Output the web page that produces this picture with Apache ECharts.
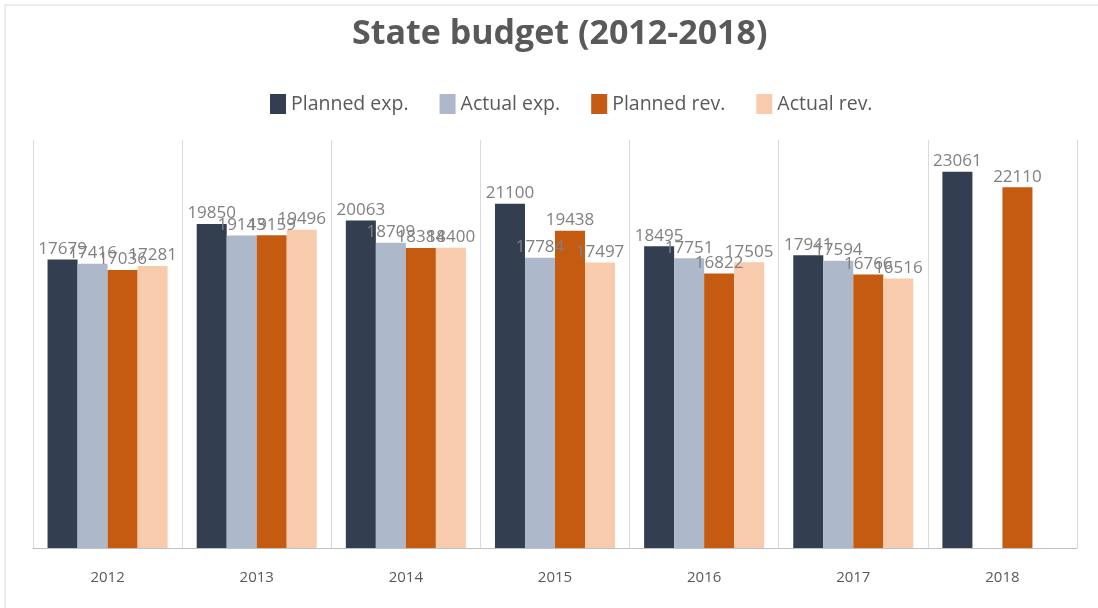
<!DOCTYPE html>
<html>
<head>
<meta charset="utf-8">
<script src="https://cdn.jsdelivr.net/npm/echarts@6/dist/echarts.min.js"></script>
<style>
  html, body { margin: 0; padding: 0; background: #ffffff; }
  #chart { width: 1098px; height: 608px; }
</style>
</head>
<body>
<div id="chart"></div>
<script>
// State budget, 2012-2018
const years = ['2012', '2013', '2014', '2015', '2016', '2017', '2018'];
const plannedExp = [17679, 19850, 20063, 21100, 18495, 17941, 23061];
const actualExp  = [17416, 19143, 18709, 17784, 17751, 17594, null];
const plannedRev = [17036, 19159, 18384, 19438, 16822, 16766, 22110];
const actualRev  = [17281, 19496, 18400, 17497, 17505, 16516, null];

const seriesNames = ['Planned exp.', 'Actual exp.', 'Planned rev.', 'Actual rev.'];
const seriesColors = ['#333f50', '#adb9ca', '#c55a11', '#f8cbad'];
const seriesData = [plannedExp, actualExp, plannedRev, actualRev];

const FONT = '"Open Sans", "Noto Sans", sans-serif';

const chart = echarts.init(document.getElementById('chart'));
chart.setOption({
  animation: false,
  backgroundColor: '#ffffff',
  graphic: [{
    type: 'rect',
    shape: { x: 5, y: 5, width: 1100, height: 620 },
    style: { fill: 'none', stroke: '#d9d9d9', lineWidth: 1 }
  }],
  title: {
    text: 'State budget (2012-2018)',
    left: 347,
    top: 12,
    textStyle: { fontFamily: FONT, fontSize: 34, fontWeight: 'bold', color: '#595959' }
  },
  legend: {
    top: 89,
    left: 265,
    itemWidth: 16,
    itemHeight: 20,
    itemGap: 31,
    icon: 'rect',
    textStyle: { fontFamily: FONT, fontSize: 19.5, color: '#595959' },
    data: seriesNames
  },
  grid: { left: 33, right: 21, top: 140, bottom: 60 },
  xAxis: {
    type: 'category',
    data: years,
    axisTick: { show: false },
    axisLine: { lineStyle: { color: '#bfbfbf', width: 1 } },
    axisLabel: { fontFamily: FONT, fontSize: 15, color: '#595959', margin: 22 },
    splitLine: { show: true, lineStyle: { color: '#d9d9d9', width: 1 } }
  },
  yAxis: {
    type: 'value',
    min: 0,
    max: 25000,
    interval: 5000,
    show: false,
    splitLine: { show: false }
  },
  series: seriesData.map((d, i) => ({
    name: seriesNames[i],
    type: 'bar',
    data: d,
    barGap: '0%',
    barCategoryGap: '19.5%',
    itemStyle: { color: seriesColors[i] },
    label: {
      show: true,
      position: 'top',
      distance: 2,
      fontFamily: FONT,
      fontSize: 17,
      color: '#808080'
    }
  }))
});
</script>
</body>
</html>
